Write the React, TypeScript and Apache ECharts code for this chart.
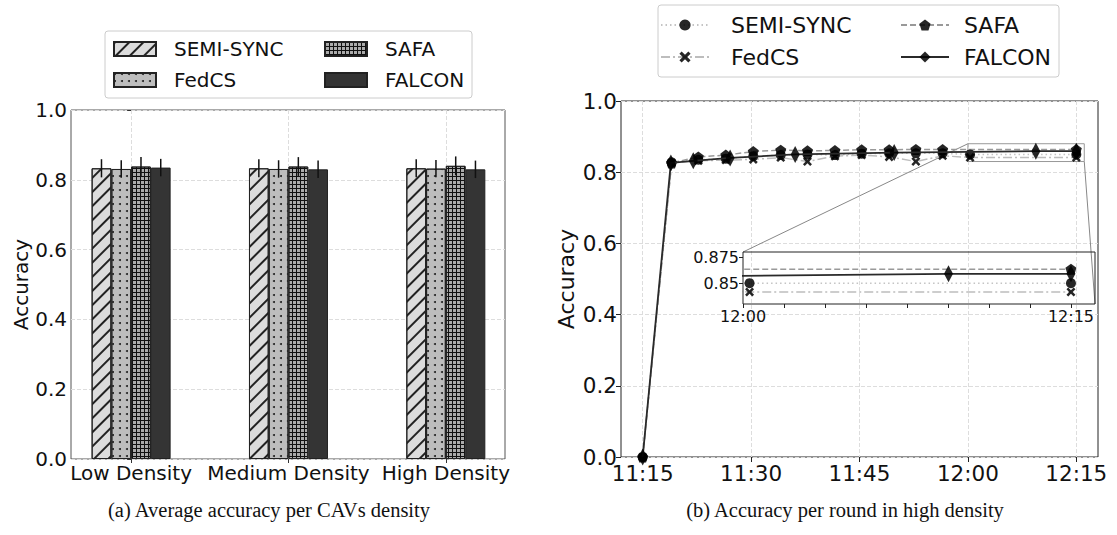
import React, { useEffect, useRef } from 'react';
import * as echarts from 'echarts';

// ---------- Left chart data ----------
const densityCategories = ['Low Density', 'Medium Density', 'High Density'];
const seriesNames = ['SEMI-SYNC', 'FedCS', 'SAFA', 'FALCON'];
const semiSyncAvg = [0.833, 0.833, 0.833];
const fedcsAvg = [0.831, 0.831, 0.832];
const safaAvg = [0.838, 0.838, 0.840];
const falconAvg = [0.835, 0.830, 0.830];
const semiSyncErr = [0.026, 0.026, 0.026];
const fedcsErr = [0.025, 0.025, 0.025];
const safaErr = [0.027, 0.027, 0.027];
const falconErr = [0.025, 0.025, 0.025];

// ---------- Right chart data (x = minutes after 11:00) ----------
const roundTimes = [15, 19.0, 22.7, 26.5, 30.3, 34.1, 37.8, 41.6, 45.3, 49.1, 52.8, 56.5, 60.3, 75];
const semiSyncAcc = [0, 0.828, 0.835, 0.838, 0.845, 0.848, 0.850, 0.848, 0.852, 0.853, 0.853, 0.853, 0.850, 0.850];
const fedcsAcc = [0, 0.826, 0.832, 0.834, 0.836, 0.841, 0.830, 0.845, 0.848, 0.843, 0.830, 0.846, 0.8415, 0.8415];
const safaTimes = [15, 19.0, 22.7, 26.5, 30.3, 34.1, 37.8, 41.6, 45.3, 49.1, 52.8, 56.5, 75];
const safaAcc = [0, 0.826, 0.843, 0.848, 0.858, 0.862, 0.860, 0.861, 0.863, 0.863, 0.864, 0.8635, 0.8635];
const falconTimes = [15, 18.9, 22.0, 27.1, 36.1, 49.8, 69.4, 75];
const falconAcc = [0, 0.826, 0.832, 0.840, 0.850, 0.855, 0.859, 0.859];
const timeTicks = [15, 30, 45, 60, 75];
const insetYTicks = [0.85, 0.875];
const zoomBox = { x0: 60, x1: 76.1, y0: 0.83, y1: 0.88 };

const FONT = 'DejaVu Sans';
const BAR_W = 19.75;
const LINE_PREFIX = 'r:';

const pentagon = 'path://M5,0 L10,3.8 L8.1,10 L1.9,10 L0,3.8 Z';
const xMark = 'path://M0,2 L2,0 L5,3 L8,0 L10,2 L7,5 L10,8 L8,10 L5,7 L2,10 L0,8 L3,5 Z';
const gridCell = 'path://M0,0 L4,0 L4,1 L1,1 L1,4 L0,4 Z';

function fmtTime(v: number) {
  const h = 11 + Math.floor(v / 60);
  const m = Math.round(v % 60);
  return `${h}:${m < 10 ? '0' + m : m}`;
}

const pair = (xs: number[], ys: number[]) => xs.map((x, i) => [x, ys[i]]);

export default function App() {
  const ref = useRef<HTMLDivElement>(null);
  useEffect(() => {
    const el = ref.current!;
    const chart = echarts.init(el, null, { renderer: 'svg' });

    const avgs = [semiSyncAvg, fedcsAvg, safaAvg, falconAvg];
    const errs = [semiSyncErr, fedcsErr, safaErr, falconErr];
    const barColors = ['#dcdcdc', '#bdbdbd', '#ababab', '#343434'];
    const decals: any[] = [
      { symbol: 'rect', color: '#222', dashArrayX: [1, 0], dashArrayY: [1.2, 7.5], rotation: -Math.PI / 4 },
      { symbol: 'circle', symbolSize: 1, color: '#222', dashArrayX: [2, 5], dashArrayY: [2, 5] },
      { symbol: gridCell, symbolSize: 1, color: '#111', dashArrayX: [4, 0], dashArrayY: [4, 0] },
      null,
    ];

    const barSeries = seriesNames.map((name, s) => ({
      type: 'bar',
      name,
      xAxisIndex: 0,
      yAxisIndex: 0,
      barWidth: BAR_W,
      barGap: '0%',
      data: avgs[s].map((v, i) => [i, v]),
      itemStyle: {
        color: barColors[s],
        borderColor: '#222',
        borderWidth: 1,
        ...(decals[s] ? { decal: decals[s] } : {}),
      },
    }));

    const errData: number[][] = [];
    avgs.forEach((arr, s) => arr.forEach((v, i) => errData.push([i, v, errs[s][i], s])));

    const errSeries = {
      type: 'custom',
      xAxisIndex: 0,
      yAxisIndex: 0,
      z: 5,
      data: errData,
      renderItem: (params: any, api: any) => {
        const x = api.value(0), m = api.value(1), e = api.value(2), s = api.value(3);
        const top = api.coord([x, m + e]);
        const bot = api.coord([x, m - e]);
        const off = (s - 1.5) * BAR_W;
        return {
          type: 'line',
          shape: { x1: top[0] + off, y1: top[1], x2: top[0] + off, y2: bot[1] },
          style: { stroke: '#111', lineWidth: 1.5 },
        };
      },
    };

    const lineDefs = [
      { name: 'SEMI-SYNC', data: pair(roundTimes, semiSyncAcc), symbol: 'circle', symbolSize: 10, line: { color: '#c4c4c4', width: 1.5, type: [1.5, 3] }, z: 2 },
      { name: 'FedCS', data: pair(roundTimes, fedcsAcc), symbol: xMark, symbolSize: 9, line: { color: '#bdbdbd', width: 1.5, type: [9, 3, 2, 3] }, z: 2 },
      { name: 'SAFA', data: pair(safaTimes, safaAcc), symbol: pentagon, symbolSize: 11, line: { color: '#999', width: 1.5, type: [6, 3] }, z: 2 },
      { name: 'FALCON', data: pair(falconTimes, falconAcc), symbol: 'diamond', symbolSize: [9, 17], line: { color: '#2a2a2a', width: 1.8, type: 'solid' }, z: 3 },
    ];

    const mkLines = (gridIdx: number) =>
      lineDefs.map((d) => ({
        type: 'line',
        name: LINE_PREFIX + d.name,
        xAxisIndex: gridIdx,
        yAxisIndex: gridIdx,
        data: d.data,
        symbol: d.symbol,
        symbolSize: d.symbolSize,
        showAllSymbol: true,
        clip: true,
        z: d.z,
        lineStyle: { color: d.line.color, width: d.line.width, type: d.line.type },
        itemStyle: { color: '#000', opacity: 0.85 },
      }));

    const zoomRect = {
      type: 'line',
      name: 'zoom',
      xAxisIndex: 1,
      yAxisIndex: 1,
      silent: true,
      symbol: 'none',
      z: 1,
      data: [
        [zoomBox.x0, zoomBox.y0],
        [zoomBox.x1, zoomBox.y0],
        [zoomBox.x1, zoomBox.y1],
        [zoomBox.x0, zoomBox.y1],
        [zoomBox.x0, zoomBox.y0],
      ],
      lineStyle: { color: '#999', width: 1 },
    };

    const legendBase = (name: string, left: number, top: number, opts: any) => ({
      data: [name],
      left,
      top,
      padding: 0,
      orient: 'horizontal',
      selectedMode: false,
      ...opts,
    });
    const leftLegendOpts = (pad: number) => ({
      itemWidth: 42,
      itemHeight: 14,
      icon: 'rect',
      textStyle: { fontSize: 20, fontFamily: FONT, color: '#111', padding: [0, 0, 0, pad] },
    });
    const rightLegendOpts = (pad: number) => ({
      itemWidth: 48,
      itemHeight: 14,
      formatter: (n: string) => n.slice(LINE_PREFIX.length),
      textStyle: { fontSize: 22, fontFamily: FONT, color: '#111', padding: [0, 0, 0, pad] },
    });

    const axisLabelStyle = (size: number) => ({ fontSize: size, fontFamily: FONT, color: '#111' });
    const gridLine = { show: true, lineStyle: { color: '#dddddd', type: [4, 2], width: 1 } };

    const option: any = {
      animation: false,
      backgroundColor: '#fff',
      legend: [
        legendBase('SEMI-SYNC', 113, 39, leftLegendOpts(13)),
        legendBase('FedCS', 113, 70, leftLegendOpts(13)),
        legendBase('SAFA', 324, 39, leftLegendOpts(13)),
        legendBase('FALCON', 324, 70, leftLegendOpts(13)),
        legendBase(LINE_PREFIX + 'SEMI-SYNC', 660, 14, rightLegendOpts(17)),
        legendBase(LINE_PREFIX + 'FedCS', 660, 46, rightLegendOpts(17)),
        legendBase(LINE_PREFIX + 'SAFA', 900, 14, rightLegendOpts(10)),
        legendBase(LINE_PREFIX + 'FALCON', 900, 46, rightLegendOpts(10)),
      ],
      grid: [
        { left: 71, top: 110, width: 434, height: 349, show: true, borderColor: '#555', borderWidth: 1, containLabel: false },
        { left: 621, top: 101, width: 477, height: 356, show: true, borderColor: '#222', borderWidth: 1, containLabel: false },
        { left: 743, top: 252, width: 352, height: 52, show: true, borderColor: '#222', borderWidth: 1, containLabel: false, z: 10 },
      ],
      xAxis: [
        {
          type: 'value', gridIndex: 0, min: -0.382, max: 2.376,
          axisLine: { show: false },
          axisTick: { show: true, length: 4, lineStyle: { color: '#333' }, customValues: [0, 1, 2] },
          axisLabel: { ...axisLabelStyle(20), margin: 4, customValues: [0, 1, 2], formatter: (v: number) => densityCategories[Math.round(v)] },
          splitLine: gridLine,
        },
        {
          type: 'value', gridIndex: 1, min: 12, max: 78,
          axisLine: { show: false },
          axisTick: { show: true, length: 5, lineStyle: { color: '#222' }, customValues: timeTicks },
          axisLabel: { ...axisLabelStyle(21.5), margin: 5, customValues: timeTicks, formatter: (v: number) => fmtTime(v) },
          splitLine: gridLine,
        },
        {
          type: 'value', gridIndex: 2, min: 60, max: 76.1, interval: 1.875,
          axisLine: { show: false },
          axisTick: { show: true, length: 4, lineStyle: { color: '#222' } },
          axisLabel: {
            ...axisLabelStyle(16), margin: 4, showMaxLabel: false,
            formatter: (v: number) => (Math.abs(v - 60) < 1e-6 || Math.abs(v - 75) < 1e-6 ? fmtTime(v) : ''),
          },
          splitLine: { show: false },
        },
      ],
      yAxis: [
        {
          type: 'value', gridIndex: 0, min: 0, max: 1, interval: 0.2,
          name: 'Accuracy', nameLocation: 'middle', nameGap: 37,
          nameTextStyle: { fontSize: 20, fontFamily: FONT, color: '#111' },
          axisLine: { show: false },
          axisTick: { show: true, length: 4, lineStyle: { color: '#333' } },
          axisLabel: { ...axisLabelStyle(20), margin: 4, formatter: (v: number) => v.toFixed(1) },
          splitLine: gridLine,
        },
        {
          type: 'value', gridIndex: 1, min: 0, max: 1, interval: 0.2,
          name: 'Accuracy', nameLocation: 'middle', nameGap: 44,
          nameTextStyle: { fontSize: 22, fontFamily: FONT, color: '#111' },
          axisLine: { show: false },
          axisTick: { show: true, length: 5, lineStyle: { color: '#222' } },
          axisLabel: { ...axisLabelStyle(21.5), margin: 4, formatter: (v: number) => v.toFixed(1) },
          splitLine: gridLine,
        },
        {
          type: 'value', gridIndex: 2, min: 0.83, max: 0.88,
          axisLine: { show: false },
          axisTick: { show: true, length: 4, lineStyle: { color: '#222' }, customValues: insetYTicks },
          axisLabel: { ...axisLabelStyle(16), margin: 4, customValues: insetYTicks, formatter: (v: number) => String(v) },
          splitLine: { show: false },
        },
      ],
      series: [...barSeries, errSeries, zoomRect, ...mkLines(1), ...mkLines(2)],
    };

    chart.setOption(option);

    const a1 = chart.convertToPixel({ gridIndex: 1 } as any, [zoomBox.x0, zoomBox.y1]) as number[];
    const a2 = chart.convertToPixel({ gridIndex: 1 } as any, [zoomBox.x1, zoomBox.y0]) as number[];
    const b1 = chart.convertToPixel({ gridIndex: 2 } as any, [zoomBox.x0, zoomBox.y1]) as number[];
    const b2 = chart.convertToPixel({ gridIndex: 2 } as any, [zoomBox.x1, zoomBox.y0]) as number[];

    chart.setOption({
      graphic: [
        { id: 'lbox', type: 'rect', z: 0, shape: { x: 105, y: 31, width: 367, height: 67, r: 3 }, style: { fill: '#fff', stroke: '#cccccc', lineWidth: 1 } },
        { id: 'rbox', type: 'rect', z: 0, shape: { x: 658, y: 5, width: 401, height: 72, r: 3 }, style: { fill: '#fff', stroke: '#cccccc', lineWidth: 1 } },
        { id: 'c1', type: 'line', z: 1, shape: { x1: a1[0], y1: a1[1], x2: b1[0], y2: b1[1] }, style: { stroke: '#888', lineWidth: 1 } },
        { id: 'c2', type: 'line', z: 1, shape: { x1: a2[0], y1: a2[1], x2: b2[0], y2: b2[1] }, style: { stroke: '#888', lineWidth: 1 } },
        { id: 'capA', type: 'text', x: 269, y: 510, style: { text: '(a) Average accuracy per CAVs density', fontSize: 20.5, fontFamily: 'Liberation Serif', fill: '#111', textAlign: 'center', textVerticalAlign: 'middle' } },
        { id: 'capB', type: 'text', x: 845, y: 510, style: { text: '(b) Accuracy per round in high density', fontSize: 20.5, fontFamily: 'Liberation Serif', fill: '#111', textAlign: 'center', textVerticalAlign: 'middle' } },
      ],
    });

    return () => chart.dispose();
  }, []);
  return <div ref={ref} style={{ position: 'fixed', left: 0, top: 0, width: 1117, height: 535 }} />;
}
